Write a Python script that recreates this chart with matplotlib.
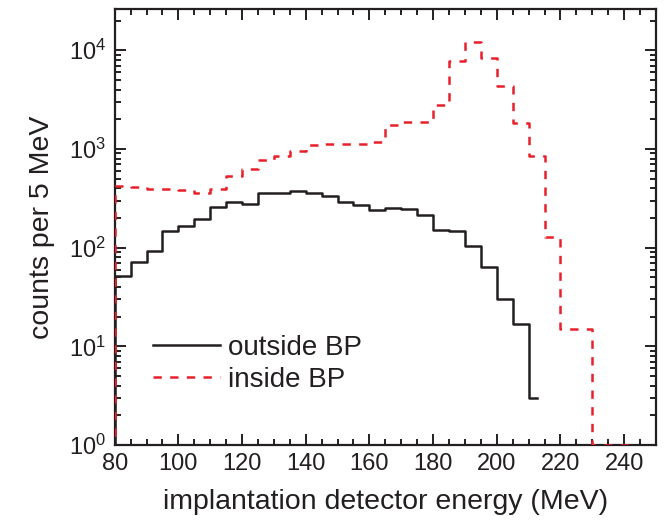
import numpy as np
import matplotlib
matplotlib.use("Agg")
import matplotlib.pyplot as plt
from matplotlib.ticker import MultipleLocator, LogLocator, NullFormatter

# ── Data (bin centres, counts per 5 MeV) ──────────────────────────────────────
energy_outside = [77.5, 82.5, 87.5, 92.5, 97.5, 102.5, 107.5, 112.5, 117.5, 122.5,
                  127.5, 132.5, 137.5, 142.5, 147.5, 152.5, 157.5, 162.5, 167.5,
                  172.5, 177.5, 182.5, 187.5, 192.5, 197.5, 202.5, 207.5, 212.5]
counts_outside = [1, 51, 72, 93, 148, 164, 196, 259, 292, 280,
                  354, 362, 377, 362, 330, 292, 271, 242, 252,
                  246, 212, 151, 146, 103, 63, 30, 17, 3]

energy_inside = [77.5, 82.5, 87.5, 92.5, 97.5, 102.5, 107.5, 112.5, 117.5, 122.5,
                 127.5, 132.5, 137.5, 142.5, 147.5, 152.5, 157.5, 162.5, 167.5,
                 172.5, 177.5, 182.5, 187.5, 192.5, 197.5, 202.5, 207.5, 212.5,
                 217.5, 222.5, 227.5, 232.5, 237.5, 242.5]
counts_inside = [1, 421, 410, 395, 393, 380, 362, 395, 526, 625,
                 764, 840, 944, 1085, 1110, 1120, 1130, 1165, 1760,
                 1875, 1875, 2810, 7780, 12140, 8350, 4300, 1815, 840,
                 128, 15, 15, 1, 1, 1]

labels = ["outside BP", "inside BP"]

# ── Style ─────────────────────────────────────────────────────────────────────
plt.rcParams["font.family"] = ["Liberation Sans", "DejaVu Sans"]
plt.rcParams["mathtext.default"] = "regular"
plt.rcParams["lines.scale_dashes"] = False
TEXT = "#231f20"
RED = "#e8202a"

fig = plt.figure(figsize=(6.68, 5.27), dpi=100)
ax = fig.add_axes([0.1717, 0.1556, 0.8103, 0.8267])

ax.step(energy_outside, counts_outside, where="mid", color=TEXT, lw=1.8,
        label=labels[0], zorder=2)
ax.step(energy_inside, counts_inside, where="mid", color=RED, lw=1.8,
        dashes=(6, 6), label=labels[1], zorder=3)

ax.set_yscale("log")
ax.set_xlim(80, 250)
ax.set_ylim(1, 2.6e4)

# ── Ticks ─────────────────────────────────────────────────────────────────────
ax.xaxis.set_major_locator(MultipleLocator(20))
ax.xaxis.set_minor_locator(MultipleLocator(5))
ax.yaxis.set_major_locator(LogLocator(base=10, numticks=10))
ax.yaxis.set_minor_locator(LogLocator(base=10, subs=np.arange(2, 10), numticks=20))
ax.yaxis.set_minor_formatter(NullFormatter())
ax.tick_params(which="both", direction="in", top=True, right=True,
               width=1.4, colors=TEXT, labelcolor=TEXT)
ax.tick_params(which="major", length=8, labelsize=17, pad=6)
ax.tick_params(which="minor", length=4.5)
for sp in ax.spines.values():
    sp.set_linewidth(1.6)
    sp.set_color(TEXT)

ax.set_xlabel("implantation detector energy (MeV)", fontsize=20.5, color=TEXT,
              labelpad=10)
ax.set_ylabel("counts per 5 MeV", fontsize=20.5, color=TEXT, labelpad=10)

leg = ax.legend(loc="center left", bbox_to_anchor=(0.0708, 0.186), frameon=False,
                fontsize=20, handlelength=2.4, handletextpad=0.3,
                borderpad=0, borderaxespad=0, labelspacing=0.2)
for t in leg.get_texts():
    t.set_color(TEXT)

fig.savefig("out.png", dpi=100)
